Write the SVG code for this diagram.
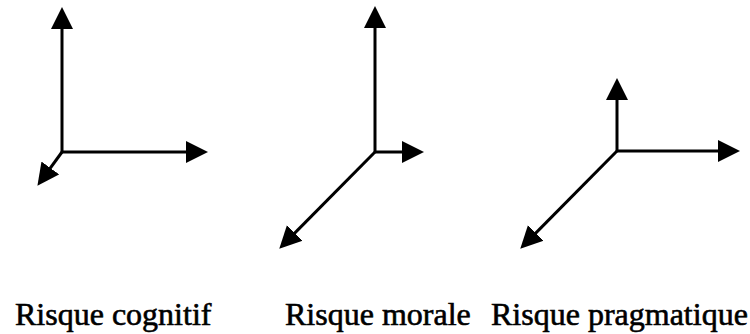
<svg xmlns="http://www.w3.org/2000/svg" width="750" height="334" viewBox="0 0 750 334">
<style>
.ax{stroke:#000;stroke-width:3;fill:none;marker-end:url(#ah)}
.lbl{font-family:"Liberation Serif","Times New Roman",serif;font-size:32px;fill:#000;stroke:#000;stroke-width:0.6}
</style>
<defs>
<marker id="ah" markerUnits="userSpaceOnUse" markerWidth="23" markerHeight="23" refX="11" refY="11" orient="auto" viewBox="0 0 23 22">
<path d="M0,0 L22,11 L0,22 z" fill="#000"/>
</marker>
</defs>
<rect width="750" height="334" fill="#fff"/>
<g id="connectors">
<g id="axes-cognitif">
<line class="ax" x1="62" y1="152" x2="62" y2="18"/>
<line class="ax" x1="62" y1="152" x2="197" y2="152"/>
<line class="ax" x1="62" y1="152" x2="43.9" y2="176.9"/>
</g>
<g id="axes-morale">
<line class="ax" x1="375" y1="152" x2="375" y2="17"/>
<line class="ax" x1="375" y1="152" x2="413" y2="152"/>
<line class="ax" x1="375" y1="152" x2="287" y2="240.9"/>
</g>
<g id="axes-pragmatique">
<line class="ax" x1="617" y1="151" x2="617" y2="89"/>
<line class="ax" x1="617" y1="151" x2="729" y2="151"/>
<line class="ax" x1="617" y1="151" x2="528" y2="240.9"/>
</g>
</g>
<g id="label-cognitif"><text class="lbl" x="15" y="325">Risque cognitif</text></g>
<g id="label-morale"><text class="lbl" x="285" y="325">Risque morale</text></g>
<g id="label-pragmatique"><text class="lbl" x="491" y="325">Risque pragmatique</text></g>
</svg>
